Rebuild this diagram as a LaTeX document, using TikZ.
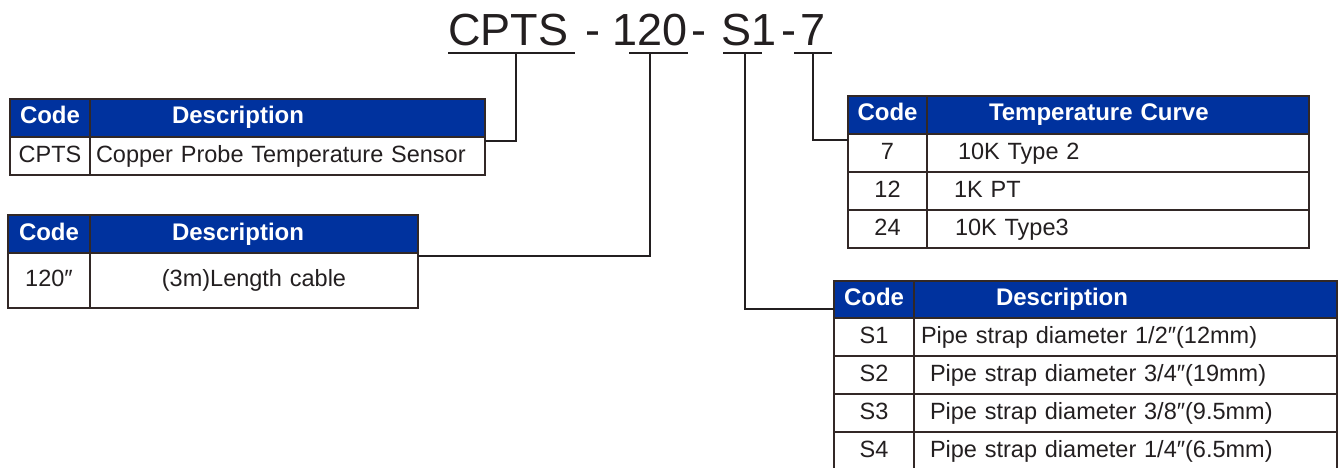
\documentclass[tikz,border=0pt]{standalone}
\usepackage{fontspec}
\setmainfont{Liberation Sans}
\usetikzlibrary{positioning}
\definecolor{CodeBlue}{RGB}{0,50,158}
\definecolor{RuleBrown}{RGB}{50,40,38}
\definecolor{InkGray}{RGB}{35,31,32}
\tikzset{
  cell/.style={draw=RuleBrown,line width=1.6pt,fill=white,inner sep=0pt,outer sep=0pt,
    minimum height=38pt,text height=17pt,text depth=5pt,
    font=\fontsize{23.5}{28}\selectfont,text=InkGray},
  headcell/.style={cell,fill=CodeBlue,text=white,font=\fontsize{24}{28}\selectfont\bfseries},
  codecell/.style={minimum width=#1,text width=#1,align=center},
  desccell/.style n args={3}{minimum width=#1,text width=#2,inner xsep=#3,align=left},
  midcell/.style={minimum width=#1,text width=#1,align=center},
  title/.style={anchor=base west,inner sep=0pt,text=InkGray,font=\fontsize{45}{50}\selectfont},
  underbar/.style={draw=InkGray,line width=2.6pt},
  leader/.style={draw=InkGray,line width=2.6pt}
}
\begin{document}
\begin{tikzpicture}[x=1pt,y=-1pt]
  \clip (0,0) rectangle (1338,468);
  \fill[white] (0,0) rectangle (1338,468);
  % part number
  \node[title] (sensor) at (448,46) {CPTS};
  \node[title] (dashA) at (585,46) {-};
  \node[title] (length) at (612,46) {120};
  \node[title] (dashB) at (691,46) {-};
  \node[title] (strap) at (721,46) {S1};
  \node[title] (dashC) at (781,46) {-};
  \node[title] (curve) at (800,46) {7};
  \draw[underbar] (448,53) -- (575,53);
  \draw[underbar] (629,53) -- (688,53);
  \draw[underbar] (723,53) -- (762,53);
  \draw[underbar] (794,53) -- (832,53);
  \coordinate (sensortap) at (516,53);
  \coordinate (lengthtap) at (650,53);
  \coordinate (straptap) at (745,53);
  \coordinate (curvetap) at (813,53);

  % sensor table
  \node[headcell,codecell=80pt,anchor=north west] (sensorcode) at (10,99) {Code};
  \node[headcell,desccell={395pt}{231pt}{82pt},right=0pt of sensorcode] (sensorhead) {Description};
  \node[cell,codecell=80pt,below=0pt of sensorcode] (sensorkey) {CPTS};
  \node[cell,desccell={395pt}{383pt}{6pt},right=0pt of sensorkey] (sensortext) {Copper Probe Temperature Sensor};

  % length table
  \node[headcell,codecell=82pt,anchor=north west] (lengthcode) at (8,215) {Code};
  \node[headcell,desccell={328pt}{164pt}{82pt},right=0pt of lengthcode] (lengthhead) {Description};
  \node[cell,codecell=82pt,minimum height=55pt,below=0pt of lengthcode] (lengthkey) {120″};
  \node[cell,midcell=328pt,minimum height=55pt,right=0pt of lengthkey] (lengthtext) {(3m)Length cable};

  % curve table
  \node[headcell,codecell=79pt,anchor=north west] (curvecode) at (848,96) {Code};
  \node[headcell,desccell={382pt}{258pt}{62pt},right=0pt of curvecode] (curvehead) {Temperature Curve};
  \node[cell,codecell=79pt,below=0pt of curvecode] (curvekeyA) {7};
  \node[cell,desccell={382pt}{320pt}{31pt},right=0pt of curvekeyA] (curvetextA) {10K Type 2};
  \node[cell,codecell=79pt,below=0pt of curvekeyA] (curvekeyB) {12};
  \node[cell,desccell={382pt}{328pt}{27pt},right=0pt of curvekeyB] (curvetextB) {1K PT};
  \node[cell,codecell=79pt,below=0pt of curvekeyB] (curvekeyC) {24};
  \node[cell,desccell={382pt}{326pt}{28pt},right=0pt of curvekeyC] (curvetextC) {10K Type3};

  % strap table
  \node[headcell,codecell=80pt,minimum height=37pt,anchor=north west] (strapcode) at (834,281) {Code};
  \node[headcell,desccell={423pt}{259pt}{82pt},minimum height=37pt,right=0pt of strapcode] (straphead) {Description};
  \node[cell,codecell=80pt,below=0pt of strapcode] (strapkeyA) {S1};
  \node[cell,desccell={423pt}{409pt}{7pt},right=0pt of strapkeyA] (straptextA) {Pipe strap diameter 1/2″(12mm)};
  \node[cell,codecell=80pt,below=0pt of strapkeyA] (strapkeyB) {S2};
  \node[cell,desccell={423pt}{391pt}{16pt},right=0pt of strapkeyB] (straptextB) {Pipe strap diameter 3/4″(19mm)};
  \node[cell,codecell=80pt,below=0pt of strapkeyB] (strapkeyC) {S3};
  \node[cell,desccell={423pt}{391pt}{16pt},right=0pt of strapkeyC] (straptextC) {Pipe strap diameter 3/8″(9.5mm)};
  \node[cell,codecell=80pt,below=0pt of strapkeyC] (strapkeyD) {S4};
  \node[cell,desccell={423pt}{391pt}{16pt},right=0pt of strapkeyD] (straptextD) {Pipe strap diameter 1/4″(6.5mm)};

  \draw[leader] (sensortap) |- ([yshift=-4pt]sensortext.north east);
  \draw[leader] (lengthtap) |- ([yshift=-3pt]lengthtext.north east);
  \draw[leader] (straptap) |- ([yshift=9pt]strapcode.south west);
  \draw[leader] (curvetap) |- ([yshift=-6pt]curvekeyA.north west);
\end{tikzpicture}
\end{document}
